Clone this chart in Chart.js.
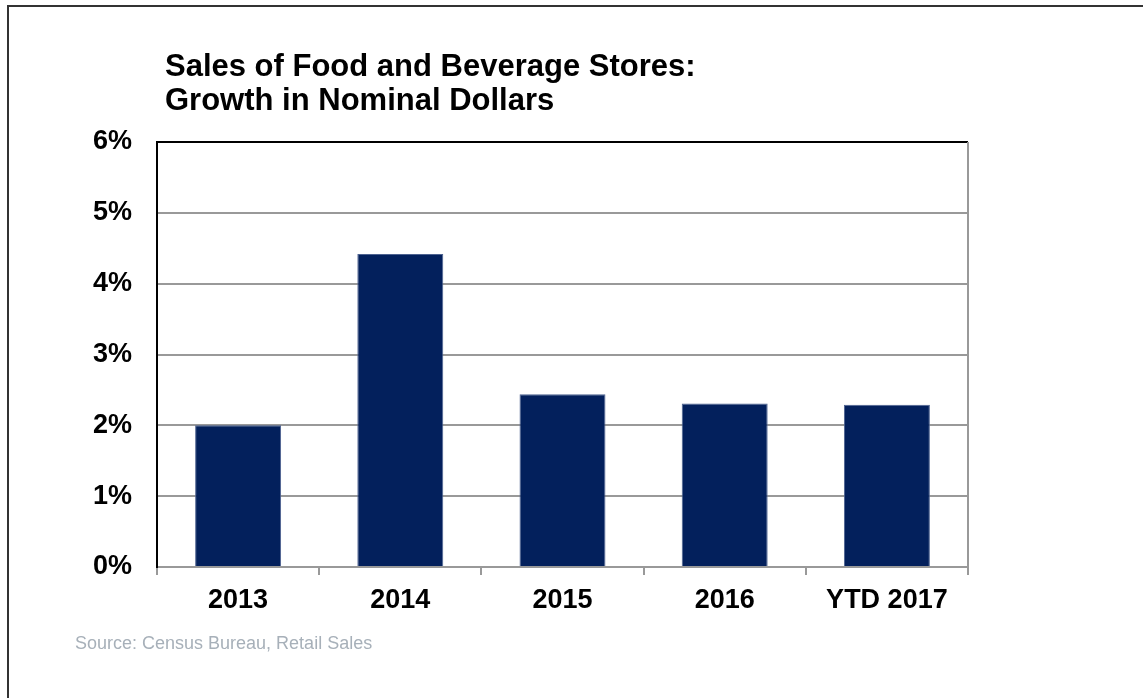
<!DOCTYPE html>
<html>
<head>
<meta charset="utf-8">
<script src="https://cdn.jsdelivr.net/npm/chart.js@4.4.1/dist/chart.umd.min.js"></script>
<style>
  html, body { margin: 0; padding: 0; background: #fff; }
  #page { position: relative; width: 1143px; height: 698px; overflow: hidden; font-family: "Liberation Sans", Arial, sans-serif; }
  #frame { position: absolute; left: 7px; top: 5px; right: 0; bottom: 0; border-top: 2px solid #333; border-left: 2px solid #333; }
  #title { position: absolute; left: 165px; top: 49px; font-size: 31px; line-height: 34px; font-weight: bold; color: #000; }
  #source { position: absolute; left: 75px; top: 634px; font-size: 18px; line-height: 18px; color: #a7b0b9; }
  #chart { position: absolute; left: 0; top: 0; }
</style>
</head>
<body>
<div id="page">
  <div id="frame"></div>
  <canvas id="chart" width="1143" height="698"></canvas>
  <div id="title">Sales of Food and Beverage Stores:<br>Growth in Nominal Dollars</div>
  <div id="source">Source: Census Bureau, Retail Sales</div>
</div>
<script>
// Croissance annuelle des ventes (%)
const years = ['2013', '2014', '2015', '2016', 'YTD 2017'];
const growth = [2.0, 4.42, 2.44, 2.31, 2.29];
const yTicks = [0, 1, 2, 3, 4, 5, 6];

const gridGray = '#999999';
const boldFont = { family: '"Liberation Sans", Arial, sans-serif', size: 27, weight: 'bold' };

// Bord droit du cadre du graphique
const rightEdge = {
  id: 'rightEdge',
  afterDraw(chart) {
    const { ctx, chartArea } = chart;
    ctx.save();
    ctx.strokeStyle = gridGray;
    ctx.lineWidth = 2;
    ctx.beginPath();
    ctx.moveTo(chartArea.right, chartArea.top);
    ctx.lineTo(chartArea.right, chartArea.bottom);
    ctx.stroke();
    ctx.restore();
  }
};

const ctx = document.getElementById('chart').getContext('2d');
new Chart(ctx, {
  type: 'bar',
  data: {
    labels: years,
    datasets: [{
      data: growth,
      backgroundColor: '#03205C',
      borderColor: '#4d6290',
      borderWidth: 1,
      barPercentage: 0.53,
      categoryPercentage: 1
    }]
  },
  options: {
    responsive: false,
    animation: false,
    layout: { padding: { left: 0, top: 142, right: 175, bottom: 71 } },
    plugins: {
      legend: { display: false },
      tooltip: { enabled: false }
    },
    scales: {
      x: {
        offset: true,
        grid: {
          offset: true,
          drawOnChartArea: false,
          drawTicks: true,
          tickLength: 8,
          color: gridGray,
          lineWidth: 2
        },
        border: { color: gridGray, width: 2 },
        ticks: { color: '#000', padding: 9, font: boldFont },
        afterFit: (scale) => { scale.height = 60; }
      },
      y: {
        min: yTicks[0],
        max: yTicks[yTicks.length - 1],
        afterBuildTicks: (scale) => { scale.ticks = yTicks.map(v => ({ value: v })); },
        grid: {
          drawTicks: false,
          lineWidth: 2,
          color: (c) => (c.tick && c.tick.value === 6 ? '#000' : gridGray)
        },
        border: { color: '#000', width: 2 },
        ticks: {
          color: '#000',
          padding: 25,
          font: boldFont,
          callback: (v) => v + '%'
        },
        afterFit: (scale) => { scale.width = 157; }
      }
    }
  },
  plugins: [rightEdge]
});
</script>
</body>
</html>
